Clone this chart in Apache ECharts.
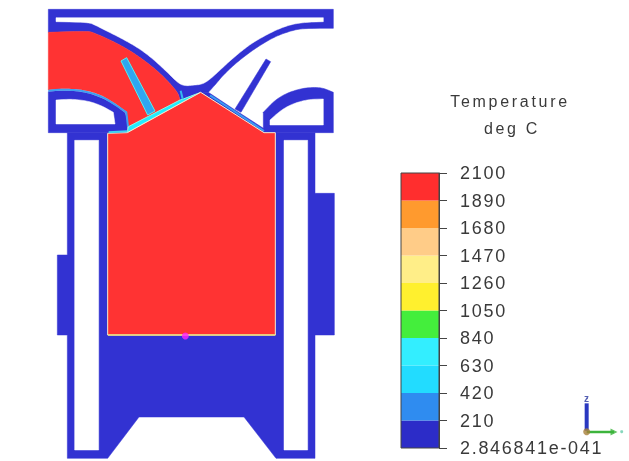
<!DOCTYPE html>
<html><head><meta charset="utf-8">
<script src="https://cdn.jsdelivr.net/npm/echarts@6/dist/echarts.min.js"></script>
<style>
html,body{margin:0;padding:0;background:#fff}
#chart{width:629px;height:461px;filter:blur(0.55px)}
#chart text{letter-spacing:1.7px}
#chart text[style*="16px"]{letter-spacing:2.7px}
</style></head><body><div id="chart"></div>
<script>
// Colour bar
const bandValues=[210,210,210,210,210,210,210,210,210,210];
const bandColors=['#2c2cc8','#2f8cf0','#22dcff','#33eeff','#44ee3c','#fff02e','#ffee88','#ffcc88','#ff9a2e','#ff2e2e'];
const zeroLabel='2.846841e-041';
const titleLines=['Temperature','deg C'];
// Section outlines in model units
const wallFrame=[[25,28],[880,28],[880,85],[785,85],[745,95],[705,110],[665,133],[625,160],[585,192],[550,225],[525,255],[505,277],[482,277],[425,300],[420,300],[415,280],[390,250],[355,215],[315,183],[275,155],[240,135],[200,115],[165,100],[145,93],[25,97]];
const wallGap=[[48,53],[850,53],[850,65],[795,67],[755,73],[715,87],[675,107],[635,130],[600,157],[565,187],[530,220],[505,242],[485,253],[465,255],[435,258],[415,250],[385,220],[350,187],[315,158],[280,135],[240,113],[200,93],[165,75],[145,67],[48,65]];
const portFlow=[[25,97],[145,93],[165,100],[200,115],[240,135],[275,155],[315,183],[355,215],[390,250],[415,280],[420,303],[265,380],[260,335],[225,310],[185,285],[135,270],[75,265],[25,270]];
const leftSeat=[[25,275],[75,271],[135,276],[185,293],[225,315],[255,338],[262,360],[262,398],[25,398]];
const leftSeatHole=[[48,300],[95,297],[145,303],[185,317],[220,337],[225,372],[48,372]];
const rightSeat=[[670,337],[705,300],[745,277],[795,263],[845,262],[880,277],[880,398],[670,398]];
const rightSeatHole=[[690,360],[720,333],[755,312],[805,298],[850,297],[850,375],[690,375]];
const body=[[82,398],[825,398],[825,580],[883,580],[883,1005],[825,1005],[825,1375],[708,1375],[612,1251],[297,1251],[203,1375],[82,1375],[82,1005],[52,1005],[52,765],[82,765]];
const slotLeft=[[104,421],[176,421],[176,1350],[104,1350]];
const slotRight=[[732,421],[803,421],[803,1350],[732,1350]];
const leftChamber=[[265,380],[420,300],[427,298],[482,277],[262,398]];
const rightChamber=[[505,277],[585,330],[675,388],[710,398],[672,398],[482,277]];
const leftStem=[[243,183],[260,173],[345,333],[323,345]];
const rightStem=[[678,177],[692,185],[603,337],[585,327]];
const cylinder=[[203,400],[262,398],[482,277],[672,398],[706,398],[706,1005],[203,1005]];
const seatEdge=[[25,272],[75,268],[135,273],[185,289],[225,313],[259,337],[264,380]];
const rightEdge=[[510,286],[600,345],[672,393]];
const shoulderEdge=[[206,397],[262,394]];
const noseEdge=[[422,272],[428,297]];
const pistonEdge=[[204,1005],[706,1005]];
const probe=[[436,1008]];
const triadZ=[[1640,1210],[1640,1292]];
const triadY=[[1640,1296],[1722,1296]];

const BLUE='#3232d2',RED='#ff3333',WHITE='#ffffff';
const layers=[
 {p:wallFrame,f:BLUE,r:1},{p:wallGap,f:WHITE,r:1},
 {p:leftSeat,f:BLUE,r:1},{p:leftSeatHole,f:WHITE,r:1},
 {p:rightSeat,f:BLUE,r:1},{p:rightSeatHole,f:WHITE,r:1},
 {p:body,f:BLUE},{p:slotLeft,f:WHITE},{p:slotRight,f:WHITE},
 {p:portFlow,f:RED,r:1},{p:seatEdge,s:'#3f9ff0',w:2,r:1},
 {p:leftChamber,f:'#22ecff',st:'#8ff5e0'},
 {p:rightChamber,f:BLUE},{p:rightEdge,s:'#3a9cf0',w:2},
 {p:noseEdge,s:'#33b8f0',w:2},
 {p:leftStem,f:'#2fa6f0',st:'#55f0ee'},
 {p:rightStem,f:BLUE},
 {p:cylinder,f:RED,st:'#f4ead0'},
 {p:shoulderEdge,s:'#3fd4f0',w:2},
 {p:pistonEdge,s:'#e8e07a',w:1.5},
 {p:triadZ,s:'#2a38c0',w:4},
 {p:triadY,s:'#3cb43c',w:2.5}
];

// Rounds only the shallow bends of a traced outline; real corners stay sharp.
function roundBends(pts,closed){
 let cur=pts;
 for(let it=0;it<3;it++){
  const out=[],n=cur.length;
  for(let i=0;i<n;i++){
   const p=cur[i];
   if(!closed&&(i===0||i===n-1)){out.push(p);continue;}
   const a=cur[(i-1+n)%n],b=cur[(i+1)%n];
   const v1=[p[0]-a[0],p[1]-a[1]],v2=[b[0]-p[0],b[1]-p[1]];
   const turn=Math.abs(Math.atan2(v1[0]*v2[1]-v1[1]*v2[0],v1[0]*v2[0]+v1[1]*v2[1]));
   if(turn<0.6){
    out.push([p[0]-v1[0]*0.25,p[1]-v1[1]*0.25],[p[0]+v2[0]*0.25,p[1]+v2[1]*0.25]);
   }else out.push(p);
  }
  cur=out;
 }
 return cur;
}

const option={
 animation:false,backgroundColor:'#fff',
 title:[
  {text:titleLines[0],left:505,top:88,textAlign:'center',textStyle:{fontFamily:'Liberation Sans',fontSize:16,fontWeight:'normal',color:'#3a3a3a'}},
  {text:titleLines[1],left:507,top:115,textAlign:'center',textStyle:{fontFamily:'Liberation Sans',fontSize:16,fontWeight:'normal',color:'#3a3a3a'}}
 ],
 grid:[
  {left:0,top:0,right:0,bottom:0,show:false},
  {left:401,top:173,width:38,height:275,show:true,borderColor:'#444',borderWidth:1,z:5}
 ],
 xAxis:[
  {type:'value',gridIndex:0,min:-120,max:1767,show:false},
  {type:'category',gridIndex:1,data:['T'],show:false}
 ],
 yAxis:[
  {type:'value',gridIndex:0,min:0,max:1383,inverse:true,show:false},
  {type:'value',gridIndex:1,position:'right',min:0,max:2100,interval:210,splitLine:{show:false},
   axisLine:{show:true,lineStyle:{color:'#444'}},
   axisTick:{show:true,length:8,lineStyle:{color:'#444'}},
   axisLabel:{margin:21,fontFamily:'Liberation Sans',fontSize:18,color:'#3a3a3a',
    formatter:v=>v===0?zeroLabel:String(v)}}
 ],
 series:[
  {type:'custom',xAxisIndex:0,yAxisIndex:0,clip:false,silent:true,
   data:layers.map((l,i)=>[i]),
   encode:{x:0},
   renderItem:(params,api)=>{
    const l=layers[api.value(0)];
    let pts=l.p.map(c=>api.coord(c));
    if(l.r) pts=roundBends(pts,!!l.f);
    if(l.f) return {type:'polygon',shape:{points:pts},style:{fill:l.f,stroke:l.st||l.f,lineWidth:l.st?1:0.5}};
    return {type:'polyline',shape:{points:pts},style:{fill:'none',stroke:l.s,lineWidth:l.w}};
   }},
  {type:'scatter',xAxisIndex:0,yAxisIndex:0,symbolSize:7,silent:true,itemStyle:{color:'#ff22ff'},data:probe,z:4},
  {type:'scatter',xAxisIndex:0,yAxisIndex:0,symbolSize:7,silent:true,itemStyle:{color:'#a8803a'},data:[[1640,1295]],z:4},
  {type:'scatter',xAxisIndex:0,yAxisIndex:0,symbol:'triangle',symbolRotate:-90,symbolSize:7,silent:true,itemStyle:{color:'#3cb43c'},data:[[1722,1296]],z:4},
  {type:'scatter',xAxisIndex:0,yAxisIndex:0,symbolSize:3,silent:true,itemStyle:{color:'#66ccaa'},data:[[1745,1295]],z:4},
  {type:'scatter',xAxisIndex:0,yAxisIndex:0,symbolSize:1,silent:true,itemStyle:{color:'#2a38a0'},data:[[1642,1196]],z:4,
   label:{show:true,position:'inside',formatter:'z',fontFamily:'Liberation Sans',fontWeight:'bold',fontSize:10,color:'#2a38a0'}},
  ...bandValues.map((v,i)=>({type:'bar',xAxisIndex:1,yAxisIndex:1,stack:'scale',barWidth:'100%',silent:true,
    itemStyle:{color:bandColors[i]},data:[v]}))
 ]
};
const chart=echarts.init(document.getElementById('chart'),null,{renderer:'svg'});
chart.setOption(option);
</script></body></html>
